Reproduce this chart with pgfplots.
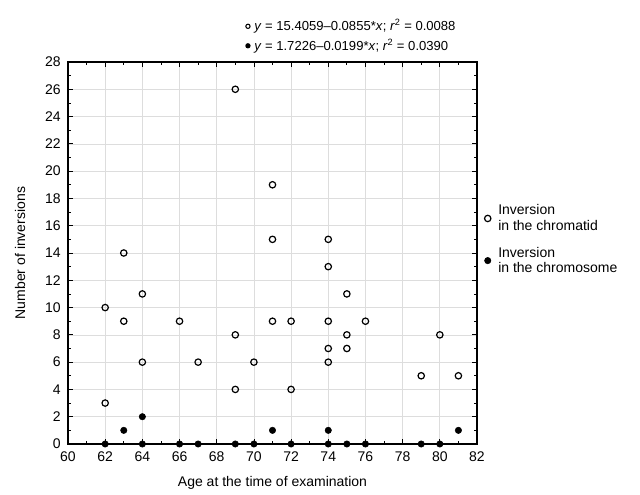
\documentclass[border=0pt]{standalone}
\usepackage{fontspec}
\setmainfont{Liberation Sans}
\usepackage{pgfplots}
\pgfplotsset{compat=1.18}
\definecolor{gridgray}{HTML}{DDDDDD}

\begin{document}
\begin{tikzpicture}
\begin{axis}[
  scale only axis, width=306.75pt, height=286.5pt,
  xmin=60, xmax=82, ymin=0, ymax=28,
  xtick distance=2, ytick distance=2, minor tick num=1,
  tick align=inside, tick pos=both,
  major tick length=4pt, minor tick length=2.5pt,
  grid=major, major grid style={gridgray, line width=0.5pt},
  axis line style={line width=0.8pt}, every tick/.style={black, line width=0.6pt},
  font=\fontsize{10.5}{12}\selectfont,
  /pgf/number format/assume math mode=true,
  xticklabel style={yshift=-2pt}, yticklabel style={xshift=-2pt},
  xlabel={Age at the time of examination},
  ylabel={Number of inversions},
  xlabel style={at={(axis description cs:0.5,-0.102)}, anchor=center},
  ylabel style={at={(axis description cs:-0.117,0.5)}, anchor=center},
  clip=false,
  legend style={draw=none, fill=none, at={(axis description cs:1.008,0.641)}, anchor=north west,
    nodes={align=left, inner xsep=5.5pt, font=\fontsize{10.5}{11.5}\selectfont}, row sep=7pt},
  legend cell align=left,
]
\addplot[only marks, mark=o, mark size=2.4pt, mark options={line width=0.9pt}, black] coordinates {
  (62,10) (62,3) (63,14) (63,9) (64,11) (64,6) (66,9) (67,6)
  (69,26) (69,8) (69,4) (70,6) (71,19) (71,15) (71,9) (72,9) (72,4)
  (74,15) (74,13) (74,9) (74,7) (74,6) (75,11) (75,8) (75,7) (76,9)
  (79,5) (80,8) (81,5)
};
\addplot[only marks, mark=*, mark size=2.4pt, black] coordinates {
  (62,0) (63,1) (64,2) (64,0) (66,0) (67,0) (69,0) (70,0) (71,1) (72,0)
  (74,1) (74,0) (75,0) (76,0) (79,0) (80,0) (81,1)
};
\legend{{Inversion\\in the chromatid},{Inversion\\in the chromosome}}
\node[anchor=west, font=\fontsize{9.8}{12}\selectfont] at (rel axis cs:0.422,1.093)
  {\tikz[baseline=-3.3pt]\draw[line width=0.8pt] (0,0) circle (1.6pt); \textit{y} = 15.4059–0.0855*\textit{x}; \textit{r}\textsuperscript{2} = 0.0088};
\node[anchor=west, font=\fontsize{9.8}{12}\selectfont] at (rel axis cs:0.422,1.042)
  {\tikz[baseline=-3.3pt]\fill (0,0) circle (2pt); \textit{y} = 1.7226–0.0199*\textit{x}; \textit{r}\textsuperscript{2} = 0.0390};
\end{axis}
\pgfresetboundingbox
\useasboundingbox (-51pt,-38.25pt) rectangle (429pt,333pt);
\end{tikzpicture}
\end{document}
